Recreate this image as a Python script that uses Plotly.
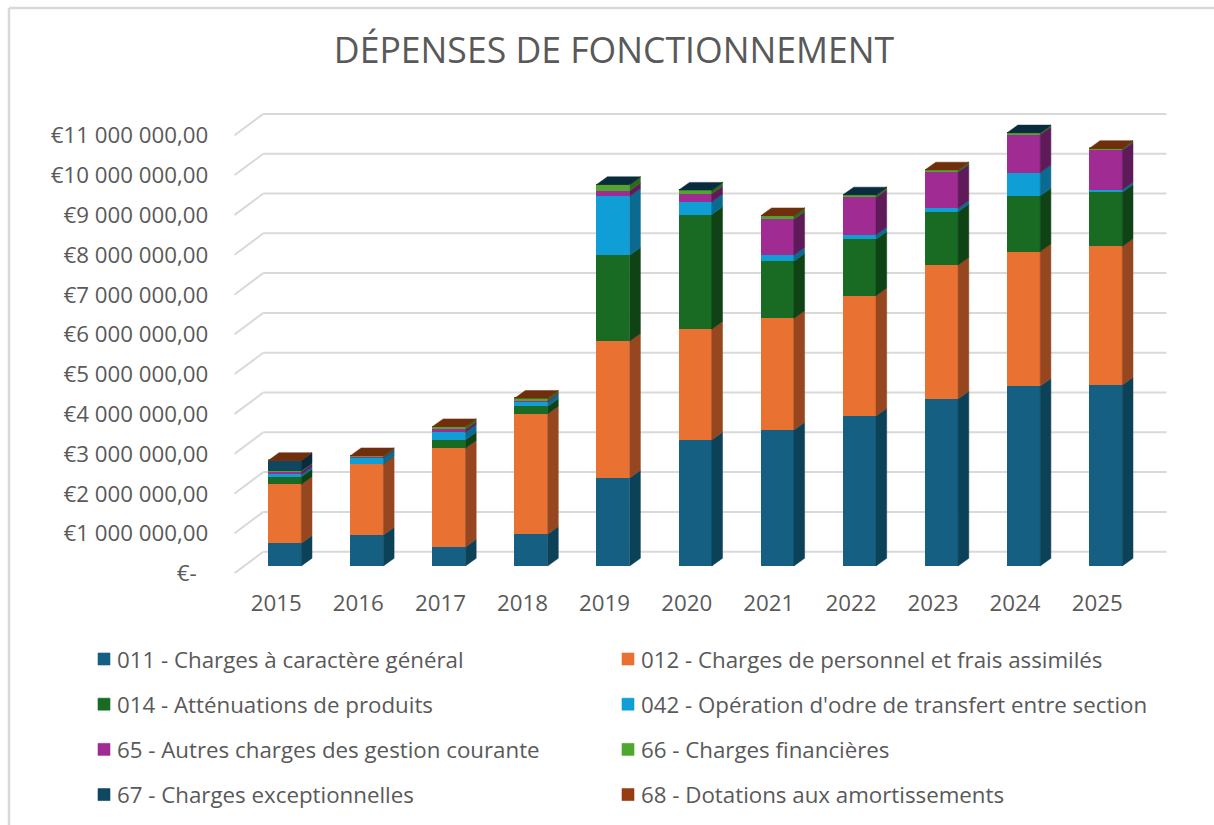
import plotly.graph_objects as go

years = [2015, 2016, 2017, 2018, 2019, 2020, 2021, 2022, 2023, 2024, 2025]
names = ["011 - Charges à caractère général", "012 - Charges de personnel et frais assimilés",
         "014 - Atténuations de produits", "042 - Opération d'odre de transfert entre section",
         "65 - Autres charges des gestion courante", "66 - Charges financières",
         "67 - Charges exceptionnelles", "68 - Dotations aux amortissements"]
s011 = [570000, 780000, 480000, 800000, 2210000, 3170000, 3420000, 3770000, 4200000, 4520000, 4550000]
s012 = [1480000, 1780000, 2480000, 3020000, 3440000, 2780000, 2800000, 3020000, 3360000, 3380000, 3480000]
s014 = [190000, 10000, 210000, 190000, 2160000, 2880000, 1440000, 1420000, 1340000, 1400000, 1360000]
s042 = [60000, 140000, 190000, 110000, 1480000, 320000, 150000, 110000, 90000, 580000, 60000]
s65 = [60000, 30000, 70000, 30000, 140000, 200000, 900000, 940000, 910000, 960000, 1000000]
s66 = [20000, 30000, 70000, 60000, 150000, 90000, 90000, 60000, 50000, 40000, 40000]
s67 = [270000, 0, 0, 0, 5000, 5000, 0, 5000, 0, 5000, 0]
s68 = [3000, 3000, 3000, 3000, 0, 0, 3000, 0, 3000, 0, 3000]
series = [s011, s012, s014, s042, s65, s66, s67, s68]
colors = ["#156082", "#E97132", "#196B24", "#0F9ED5", "#A02B93", "#4EA72E", "#0F4761", "#963D12"]
side_colors = ["#0C4257", "#96471F", "#0F4315", "#0A6A8F", "#5F1A5A", "#2F6A1B", "#082B3D", "#6F2F0C"]
top_colors = ["#0A3447", "#7A3A17", "#0C3512", "#085270", "#4E164C", "#275A17", "#082B3D", "#6F2F0C"]
tick_values = list(range(0, 12))
tick_text = ["€-\u00a0\u00a0"] + [f"€{m} 000 000,00" for m in [1, 2, 3, 4, 5, 6, 7, 8, 9]] + ["€10 000 000,00", "€11 000 000,00"]

W, H = 1214, 825
PX_X = 82.1            # px per category
PX_Y = 39.8 / 1e6      # px per euro
BAR_W = 33 / PX_X
CX0 = 284.8            # px of first bar centre
FLOOR_PX, BASE_PX, WALL_PX = 573.3, 566.0, 551.7
LEFT_PX, WALL_L_PX, RIGHT_PX, TOP_PX = 234.3, 263.3, 1166.7, 100.0
to_x = lambda px: (px - CX0) / PX_X
to_y = lambda px: (BASE_PX - px) / PX_Y
DX = 10.7 / PX_X
DY = 7.7 / PX_Y
FONT = "Open Sans"
GREY = "#595959"

fig = go.Figure()

# front faces
for idx, (nm, vals, col) in enumerate(zip(names, series, colors)):
    fig.add_trace(go.Bar(x=list(range(len(years))), y=vals, name=nm, width=BAR_W,
                         marker=dict(color=col, line=dict(width=0.6, color=col)),
                         legend="legend" if idx % 2 == 0 else "legend2",
                         legendgroup=nm, hovertemplate="%{y:,.0f} €<extra>" + nm + "</extra>"))

# side and top faces, from the same stacks
tops = [0] * len(years)
for idx, (vals, sc) in enumerate(zip(series, side_colors)):
    xs, ys = [], []
    for i, v in enumerate(vals):
        if v > 0:
            xr = i + BAR_W / 2
            y0, y1 = tops[i], tops[i] + v
            xs += [xr, xr + DX, xr + DX, xr, xr, None]
            ys += [y0, y0 + DY, y1 + DY, y1, y0, None]
    fig.add_trace(go.Scatter(x=xs, y=ys, mode="lines", fill="toself", fillcolor=sc,
                             line=dict(width=0.5, color=sc), showlegend=False, hoverinfo="skip"))
    tops = [t + v for t, v in zip(tops, vals)]

for i, total in enumerate(tops):
    last = max(k for k in range(len(series)) if series[k][i] > 0)
    xl, xr = i - BAR_W / 2, i + BAR_W / 2
    fig.add_trace(go.Scatter(x=[xl, xr, xr + DX, xl + DX, xl], y=[total, total, total + DY, total + DY, total],
                             mode="lines", fill="toself", fillcolor=top_colors[last],
                             line=dict(width=0.5, color=top_colors[last]), showlegend=False, hoverinfo="skip"))

# gridlines: floor diagonal + back wall
off_front, off_wall = to_y(FLOOR_PX), to_y(WALL_PX)
shapes = []
for t in tick_values:
    v = t * 1e6
    line = dict(color="#D9D9D9", width=2)
    shapes.append(dict(type="line", layer="below", xref="x", yref="y", x0=to_x(LEFT_PX), x1=to_x(WALL_L_PX),
                       y0=v + off_front, y1=v + off_wall, line=line))
    shapes.append(dict(type="line", layer="below", xref="x", yref="y", x0=to_x(WALL_L_PX), x1=to_x(RIGHT_PX),
                       y0=v + off_wall, y1=v + off_wall, line=line))
# chart frame (left and top edges)
frame = dict(color="#D9D9D9", width=2.5)
shapes.append(dict(type="line", xref="paper", yref="paper", x0=9 / W, x1=9 / W, y0=0, y1=1 - 8 / H, line=frame, layer="below"))
shapes.append(dict(type="line", xref="paper", yref="paper", x0=9 / W, x1=1, y0=1 - 8 / H, y1=1 - 8 / H, line=frame, layer="below"))

leg = dict(yanchor="bottom", xanchor="left", y=9 / H, tracegroupgap=13.2, traceorder="grouped",
           font=dict(family=FONT, size=22.3, color=GREY), bgcolor="rgba(0,0,0,0)")

fig.update_layout(
    width=W, height=H, autosize=False, plot_bgcolor="white", paper_bgcolor="white",
    margin=dict(l=0, r=0, t=0, b=0, autoexpand=False),
    barmode="stack", shapes=shapes, showlegend=True, bargap=0,
    title=dict(text="DÉPENSES DE FONCTIONNEMENT", x=614 / W, xanchor="center", y=1 - 51 / H, yanchor="middle",
               font=dict(family=FONT, size=35.6, color=GREY)),
    xaxis=dict(domain=[LEFT_PX / W, RIGHT_PX / W], range=[to_x(LEFT_PX), to_x(RIGHT_PX)], tickmode="array",
               tickvals=[i - 8.6 / PX_X for i in range(len(years))], ticktext=[str(y) for y in years],
               showgrid=False, zeroline=False, showline=False, ticks="", ticklabelstandoff=14,
               tickfont=dict(family=FONT, size=22.3, color=GREY)),
    yaxis=dict(domain=[1 - FLOOR_PX / H, 1 - TOP_PX / H], range=[to_y(FLOOR_PX), to_y(TOP_PX)], tickmode="array",
               tickvals=[t * 1e6 + off_front for t in tick_values], ticktext=tick_text,
               showgrid=False, zeroline=False, showline=False, ticks="", ticklabelstandoff=25,
               tickfont=dict(family=FONT, size=22.3, color=GREY)),
    legend=dict(x=77 / W, **leg),
    legend2=dict(x=601 / W, **leg),
)
fig.write_html("out.html", config={"displayModeBar": False},
               post_script="document.body.style.margin='0';"
                           "document.querySelectorAll('.legendsymbols').forEach(function(e){"
                           "e.setAttribute('transform',(e.getAttribute('transform')||'')+' translate(7,0)');});")
